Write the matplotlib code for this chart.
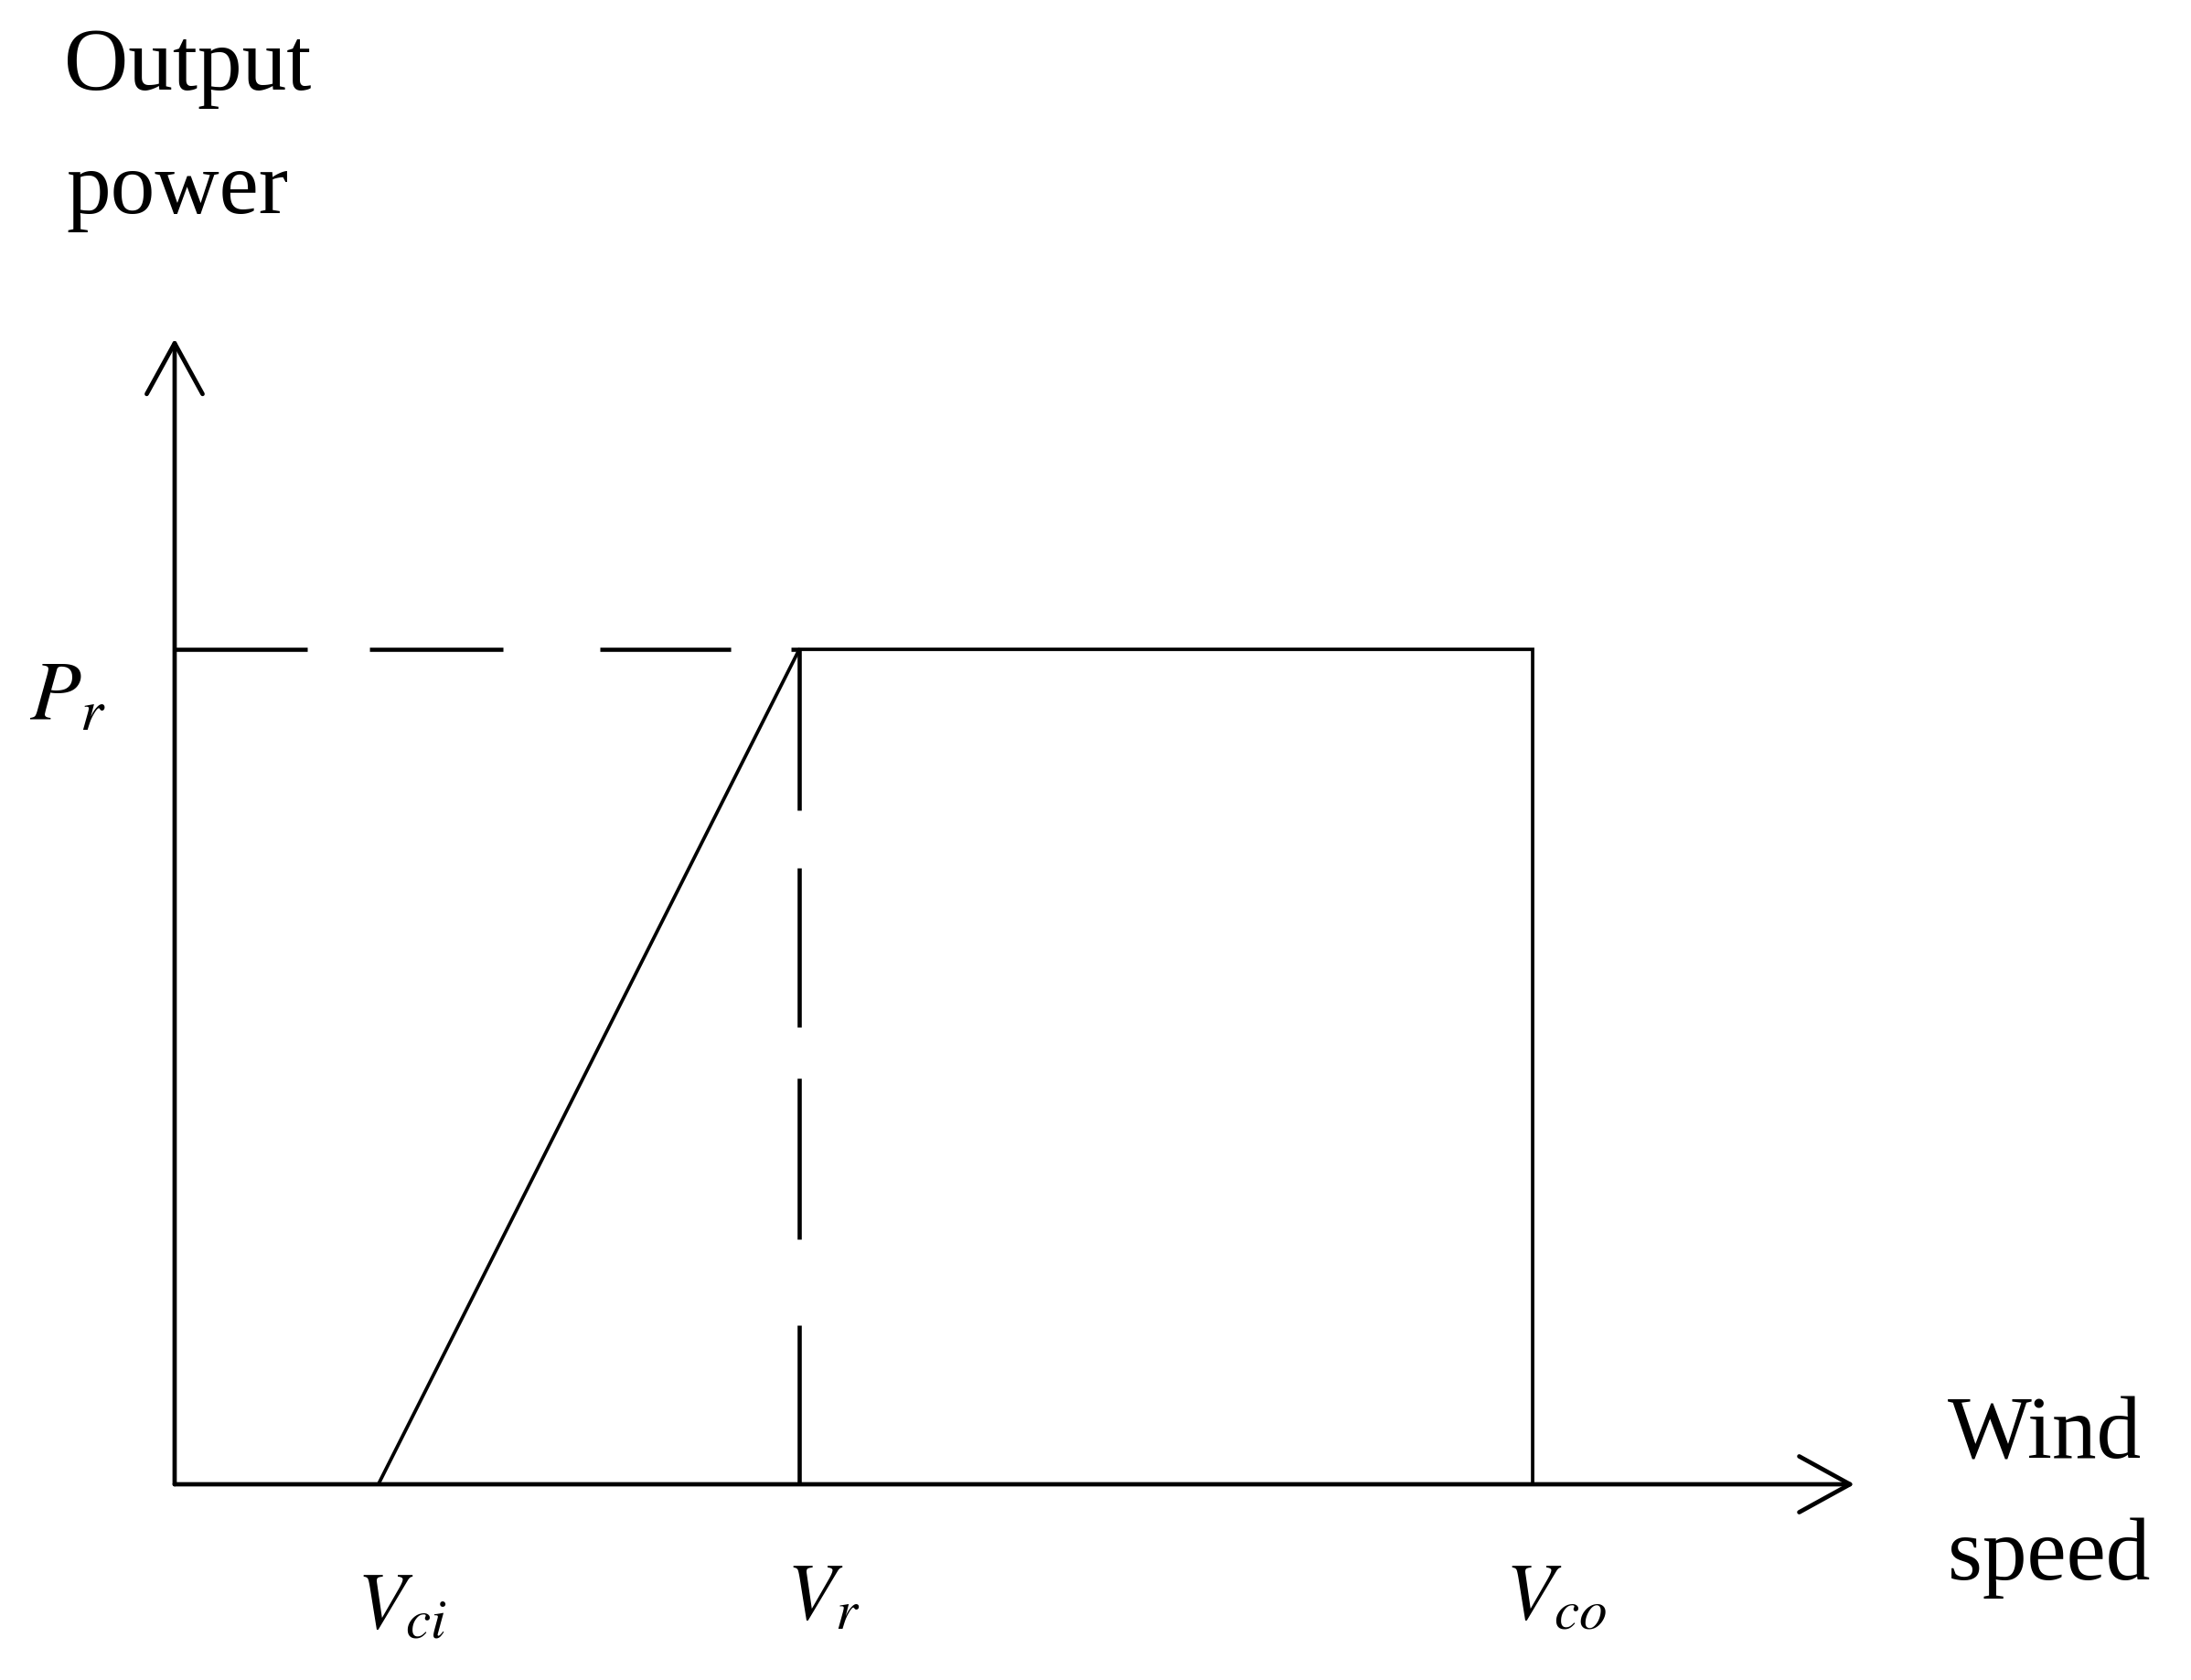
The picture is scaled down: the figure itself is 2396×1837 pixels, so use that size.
import matplotlib.pyplot as plt

# idealised wind turbine power curve (schematic units)
v_ci = 1.5      # cut-in wind speed
v_r = 4.6       # rated wind speed
v_co = 10.0     # cut-out wind speed
p_r = 1.0       # rated power

curve_v = [0, v_ci, v_r, v_co, v_co]
curve_p = [0, 0, p_r, p_r, 0]

speed_marks = [v_ci, v_r, v_co]
speed_labels = [r'$V_{ci}$', r'$V_r$', r'$V_{co}$']

x_axis_end = 12.37
y_axis_end = 1.372

plt.rcParams['font.family'] = 'Liberation Serif'
plt.rcParams['mathtext.fontset'] = 'stix'
plt.rcParams['lines.scale_dashes'] = False

W, H = 2396, 1837
fig = plt.figure(figsize=(W / 100, H / 100), dpi=100)
ax = fig.add_axes([0, 0, 1, 1])
ax.set_xlim(-1.286, 14.848)
ax.set_ylim(-0.2344, 1.7777)
ax.axis('off')

# axes with open arrow heads
arrow = dict(arrowstyle='->, head_length=40, head_width=22', lw=3.4, color='black',
             shrinkA=0, shrinkB=0, mutation_scale=1)
ax.annotate('', xy=(x_axis_end, 0), xytext=(0, 0), arrowprops=arrow)
ax.annotate('', xy=(0, y_axis_end), xytext=(0, 0), arrowprops=arrow)

# power curve
ax.plot(curve_v, curve_p, color='black', lw=2.7, solid_joinstyle='miter')

# dashed guides to rated point
h_dash = (104.4, 49, 105.1, 76.3, 103, 47.5)
v_dash = (126.7, 45.4, 125.3, 40.3, 126.7, 67.7, 125.3, 50)
ax.plot([0, v_r], [p_r, p_r], color='black', lw=3.3, dashes=h_dash)
ax.plot([v_r, v_r], [p_r, 0], color='black', lw=3.3, dashes=v_dash)

# tick-like labels
drops = [-157, -147, -147]
for v, lab, dy in zip(speed_marks, speed_labels, drops):
    ax.annotate(lab, xy=(v, 0), xytext=(26, dy), textcoords='offset pixels',
                ha='center', va='baseline', fontsize=63)

ax.annotate(r'$P_r$', xy=(0, p_r), xytext=(-117, -77), textcoords='offset pixels',
            ha='center', va='baseline', fontsize=66)

# axis titles
fig.text(70 / W, 1 - 98 / H, 'Output', fontsize=70, va='baseline')
fig.text(72 / W, 1 - 233 / H, 'power', fontsize=70, va='baseline')
fig.text(2130 / W, 1 - 1595 / H, 'Wind', fontsize=70, va='baseline')
fig.text(2130 / W, 1 - 1727 / H, 'speed', fontsize=70, va='baseline')

plt.savefig('out.png', dpi=100)
